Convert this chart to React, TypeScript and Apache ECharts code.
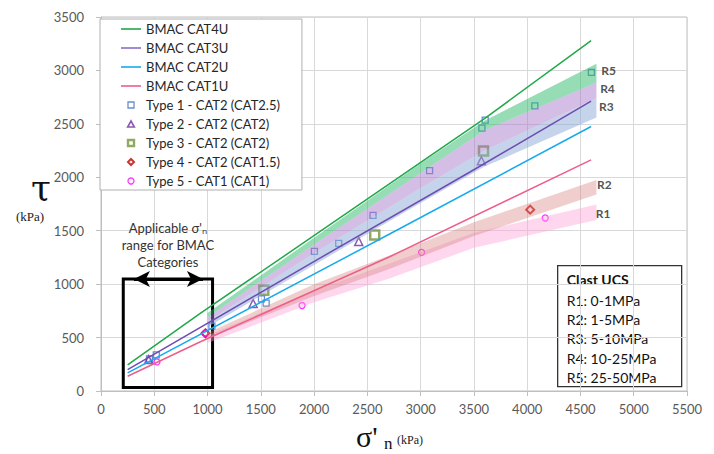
import React, { useEffect, useRef } from "react";
import * as echarts from "echarts";

// ---- BMAC lines (σ'n, τ) ----
const cat4uX = [250, 928, 1978, 3606, 4600];
const cat4uY = [245, 725, 1439, 2554, 3278];
const cat3uX = [250, 2022, 3459, 4600];
const cat3uY = [200, 1225, 2047, 2712];
const cat2uX = [250, 2709, 4600];
const cat2uY = [169, 1469, 2475];
const cat1uX = [250, 928, 2709, 4600];
const cat1uY = [138, 459, 1256, 2163];

// ---- test data points ----
const type1 = [[455, 300], [519, 338], [1041, 607], [1506, 862], [1550, 822], [2003, 1307], [2231, 1382], [2553, 1644], [3084, 2063], [3575, 2460], [3606, 2535], [4072, 2669], [4603, 2981]];
const type2 = [[447, 294], [1428, 819], [2419, 1400], [3570, 2155]];
const type3 = [[1528, 944], [2569, 1460], [3590, 2247]];
const type4 = [[980, 540], [4028, 1697]];
const type5 = [[525, 272], [975, 540], [1887, 800], [3009, 1297], [4169, 1619]];

// ---- clast UCS envelopes ----
const upperBandX = [1000, 2000, 3000, 3600, 4650];
const r5Top = [730, 1435, 2130, 2530, 3063];
const r5Bot = [690, 1370, 2040, 2440, 2888];
const r4Bot = [650, 1290, 1900, 2250, 2740];
const r3Bot = [600, 1180, 1760, 2100, 2560];
const lowerBandX = [1000, 2000, 2700, 3500, 4650];
const r2Top = [545, 1000, 1265, 1580, 1975];
const r2Bot = [490, 890, 1140, 1450, 1840];
const r1Top = [520, 940, 1190, 1480, 1745];
const r1Bot = [450, 830, 1050, 1340, 1600];

const rLabels = ["R5", "R4", "R3", "R2", "R1"];
const rLabelX = [4690, 4680, 4670, 4650, 4640];
const rLabelY = [2999, 2835, 2662, 1928, 1663];

const ucsTitle = "Clast UCS";
const ucsLines = ["R1: 0-1MPa", "R2: 1-5MPa", "R3: 5-10MPa", "R4: 10-25MPa", "R5: 25-50MPa"];

// annotation box (σ'n range)
const boxX = [209, 1047];
const boxY = [32, 1047];

const FONT = "Lato, 'Noto Sans', sans-serif";

const LINE_ICON = "path://M0,0H20V1.6H0Z";
const SQUARE_ICON = "path://M0,0H10V10H0Z";
const TRI_ICON = "path://M5,0L10,9H0Z";
const DIAMOND_ICON = "path://M5,0L10,5L5,10L0,5Z";

function zip(xs: number[], ys: number[]) {
  return xs.map((x, i) => [x, ys[i]]);
}

function band(name: string, xs: number[], lo: number[], hi: number[], color: string) {
  return {
    type: "custom",
    name,
    z: 3,
    silent: true,
    clip: true,
    data: xs.map((x, i) => [x, lo[i], hi[i]]),
    encode: { x: 0, y: [1, 2] },
    renderItem: (params: any, api: any) => {
      if (params.dataIndex !== 0) return null;
      const top: number[][] = [];
      const bot: number[][] = [];
      for (let i = 0; i < xs.length; i++) {
        const x = api.value(0, i);
        top.push(api.coord([x, api.value(2, i)]));
        bot.unshift(api.coord([x, api.value(1, i)]));
      }
      return { type: "polygon", shape: { points: top.concat(bot) }, style: { fill: color } };
    },
  };
}

function bmac(name: string, xs: number[], ys: number[], color: string, extra: any = {}) {
  return {
    type: "line",
    name,
    data: zip(xs, ys),
    symbol: "none",
    z: 4,
    lineStyle: { color, width: 1.5 },
    itemStyle: { color },
    ...extra,
  };
}

function pts(name: string, data: number[][], symbol: string, size: number, color: string, bw: number) {
  return {
    type: "scatter",
    name,
    data,
    symbol,
    symbolSize: size,
    z: 2,
    itemStyle: { color: "rgba(255,255,255,0)", borderColor: color, borderWidth: bw },
  };
}

export default function App() {
  const ref = useRef<HTMLDivElement>(null);
  useEffect(() => {
    if (!ref.current) return;
    const chart = echarts.init(ref.current, undefined, { renderer: "svg" });
    const legendItem = (name: string, icon: string, color: string, fill: string, bw: number) => ({
      name,
      icon,
      itemStyle: { color: fill, borderColor: color, borderWidth: bw },
    });
    const option: any = {
      animation: false,
      backgroundColor: "#ffffff",
      grid: { left: 101, right: 27, top: 17, bottom: 63, show: true, borderColor: "#bfbfbf", borderWidth: 1 },
      xAxis: {
        type: "value",
        min: 0,
        max: 5500,
        interval: 500,
        axisLine: { show: true, lineStyle: { color: "#bfbfbf" } },
        axisTick: { show: true, length: 5, lineStyle: { color: "#bfbfbf" } },
        axisLabel: { color: "#595959", fontSize: 13, fontFamily: FONT, margin: 11, formatter: (v: number) => String(v) },
        splitLine: { show: true, lineStyle: { color: "#d9d9d9" } },
      },
      yAxis: {
        type: "value",
        min: 0,
        max: 3500,
        interval: 500,
        axisLine: { show: true, lineStyle: { color: "#bfbfbf" } },
        axisTick: { show: true, length: 5, lineStyle: { color: "#bfbfbf" } },
        axisLabel: { color: "#595959", fontSize: 13, fontFamily: FONT, margin: 17, formatter: (v: number) => String(v) },
        splitLine: { show: true, lineStyle: { color: "#d9d9d9" } },
      },
      legend: {
        orient: "vertical",
        left: 100,
        top: 19,
        itemWidth: 20,
        itemHeight: 6,
        itemGap: 3,
        padding: [2, 22, 1, 21],
        symbolKeepAspect: true,
        backgroundColor: "#ffffff",
        borderColor: "#b0b0b0",
        borderWidth: 1,
        textStyle: { color: "#262626", fontSize: 13, fontFamily: FONT, lineHeight: 16 },
        data: [
          legendItem("BMAC CAT4U", LINE_ICON, "#21a84a", "#21a84a", 0),
          legendItem("BMAC CAT3U", LINE_ICON, "#8a6cc6", "#8a6cc6", 0),
          legendItem("BMAC CAT2U", LINE_ICON, "#17aaef", "#17aaef", 0),
          legendItem("BMAC CAT1U", LINE_ICON, "#ef5d8a", "#ef5d8a", 0),
          legendItem("Type 1 - CAT2 (CAT2.5)", SQUARE_ICON, "#4472c4", "rgba(255,255,255,0)", 1.3),
          legendItem("Type 2 - CAT2 (CAT2)", TRI_ICON, "#7030a0", "rgba(255,255,255,0)", 1.6),
          legendItem("Type 3 - CAT2 (CAT2)", SQUARE_ICON, "#77933c", "rgba(255,255,255,0)", 2.4),
          legendItem("Type 4 - CAT2 (CAT1.5)", DIAMOND_ICON, "#c00000", "rgba(255,255,255,0)", 2),
          legendItem("Type 5 - CAT1 (CAT1)", "circle", "#ff00ff", "rgba(255,255,255,0)", 1.3),
        ],
      },
      series: [
        pts("Type 1 - CAT2 (CAT2.5)", type1, "rect", 6, "#4472c4", 1.3),
        pts("Type 2 - CAT2 (CAT2)", type2, "triangle", 8, "#7030a0", 1.5),
        pts("Type 3 - CAT2 (CAT2)", type3, "rect", 9, "#77933c", 2.5),
        pts("Type 4 - CAT2 (CAT1.5)", type4, "diamond", 8, "#c00000", 2),
        pts("Type 5 - CAT1 (CAT1)", type5, "circle", 6, "#ff00ff", 1.3),
        band("R3 band", upperBandX, r3Bot, r4Bot, "rgba(140,170,215,0.5)"),
        band("R4 band", upperBandX, r4Bot, r5Bot, "rgba(165,120,200,0.48)"),
        band("R5 band", upperBandX, r5Bot, r5Top, "rgba(45,185,105,0.5)"),
        band("R1 band", lowerBandX, r1Bot, r1Top, "rgba(252,160,215,0.42)"),
        band("R2 band", lowerBandX, r2Bot, r2Top, "rgba(215,125,125,0.38)"),
        bmac("BMAC CAT4U", cat4uX, cat4uY, "#21a84a", {
          markArea: {
            silent: true,
            itemStyle: { color: "rgba(0,0,0,0)", borderColor: "#000000", borderWidth: 3 },
            label: {
              show: true,
              position: "top",
              distance: 7,
              color: "#333333",
              fontSize: 13,
              fontFamily: FONT,
              lineHeight: 17,
              align: "center",
              formatter: "Applicable σ'ₙ\nrange for BMAC\nCategories",
            },
            data: [[{ coord: [boxX[0], boxY[1]] }, { coord: [boxX[1], boxY[0]] }]],
          },
          markLine: {
            silent: true,
            symbol: ["arrow", "arrow"],
            symbolSize: [12, 16],
            lineStyle: { color: "#000000", width: 3, type: "solid" },
            label: { show: false },
            data: [[{ coord: [boxX[0] + 100, boxY[1]] }, { coord: [boxX[1] - 90, boxY[1]] }]],
          },
        }),
        bmac("BMAC CAT3U", cat3uX, cat3uY, "#6f4cb2"),
        bmac("BMAC CAT2U", cat2uX, cat2uY, "#17aaef"),
        bmac("BMAC CAT1U", cat1uX, cat1uY, "#ef5d8a"),
        {
          type: "scatter",
          name: "R labels",
          z: 6,
          silent: true,
          symbolSize: 1,
          itemStyle: { color: "rgba(0,0,0,0)" },
          data: rLabels.map((t, i) => ({ value: [rLabelX[i], rLabelY[i]], name: t })),
          label: {
            show: true,
            position: "right",
            distance: 0,
            formatter: (p: any) => p.name,
            color: "#262626",
            fontWeight: "bold",
            fontSize: 12,
            fontFamily: FONT,
          },
        },
      ],
      graphic: [
        {
          type: "group",
          left: 557,
          top: 265,
          children: [
            { type: "rect", shape: { x: 0, y: 0, width: 124, height: 121 }, style: { fill: "#ffffff", stroke: "#333333", lineWidth: 1.3 } },
            { type: "text", x: 9, y: 14, style: { text: ucsTitle, fill: "#111", font: `bold 14px ${FONT}`, verticalAlign: "middle" } },
            ...ucsLines.map((t, i) => ({
              type: "text",
              x: 9,
              y: 34.5 + i * 19.4,
              style: { text: t, fill: "#111", font: `14px ${FONT}`, verticalAlign: "middle" },
            })),
          ],
        },
        { type: "text", x: 41, y: 187, style: { text: "τ", fill: "#111", font: "36px 'DejaVu Serif', serif", align: "center", verticalAlign: "middle" } },
        { type: "text", x: 30, y: 216, style: { text: "(kPa)", fill: "#222", font: "13px 'Liberation Serif', serif", align: "center", verticalAlign: "middle" } },
        { type: "text", x: 356, y: 436, style: { text: "σ'", fill: "#111", font: "30px 'Liberation Serif', serif", align: "left", verticalAlign: "middle" } },
        { type: "text", x: 384, y: 443, style: { text: "n", fill: "#111", font: "17px 'Liberation Serif', serif", align: "left", verticalAlign: "middle" } },
        { type: "text", x: 397, y: 440, style: { text: "(kPa)", fill: "#222", font: "12px 'Liberation Serif', serif", align: "left", verticalAlign: "middle" } },
      ],
    };
    chart.setOption(option);
    return () => chart.dispose();
  }, []);
  return <div ref={ref} style={{ position: "fixed", left: 0, top: 0, width: 714, height: 454 }} />;
}
